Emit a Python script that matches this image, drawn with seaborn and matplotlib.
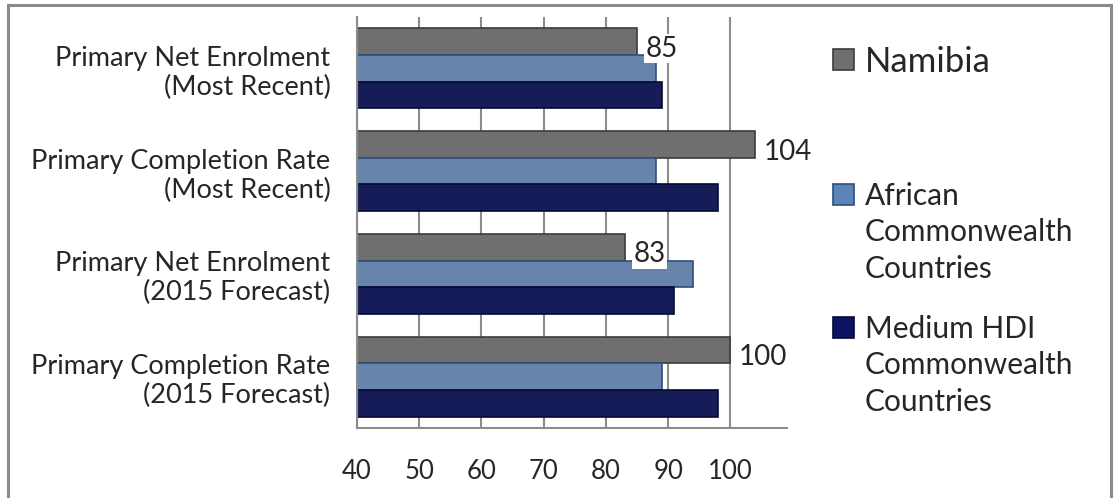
import numpy as np
import pandas as pd
import matplotlib.pyplot as plt
import seaborn as sns
from matplotlib.patches import Rectangle

categories = [
    "Primary Net Enrolment\n(Most Recent)",
    "Primary Completion Rate\n(Most Recent)",
    "Primary Net Enrolment\n(2015 Forecast)",
    "Primary Completion Rate\n(2015 Forecast)",
]
series = ["Namibia", "African Commonwealth Countries", "Medium HDI Commonwealth Countries"]
legend_labels = ["Namibia", "African\nCommonwealth\nCountries", "Medium HDI\nCommonwealth\nCountries"]
namibia = [85, 104, 83, 100]
african = [88, 88, 94, 89]
medium_hdi = [89, 98, 91, 98]
xticks = [40, 50, 60, 70, 80, 90, 100]

colors = ["#6f6f6f", "#5b84b8", "#0b1362"]
edges = ["#3c3c3c", "#2e4f7a", "#050a30"]

df = pd.DataFrame({
    "category": categories * 3,
    "series": np.repeat(series, len(categories)),
    "value": namibia + african + medium_hdi,
})

sns.set_theme(style="white")
plt.rcParams["font.family"] = ["Lato", "DejaVu Sans"]

W, H = 1117, 498
fig = plt.figure(figsize=(W / 100, H / 100), dpi=100)
ax = fig.add_axes([357 / W, 1 - 428 / H, (787 - 357) / W, (428 - 17) / H])

sns.barplot(data=df, y="category", x="value", hue="series", orient="h",
            palette=colors, width=0.78, gap=0, ax=ax, legend=False)

for container, ec in zip(ax.containers, edges):
    for bar in container:
        bar.set_edgecolor(ec)
        bar.set_linewidth(1.2)

ax.set_xlim(40, 109.1)
ax.set_xticks(xticks)
ax.set_xlabel("")
ax.set_ylabel("")
ax.grid(axis="x", color="#8c8c8c", linewidth=1.5)
ax.set_axisbelow(True)
for side in ["top", "right"]:
    ax.spines[side].set_visible(False)
for side in ["left", "bottom"]:
    ax.spines[side].set_color("#8c8c8c")
    ax.spines[side].set_linewidth(1.5)
ax.tick_params(axis="y", labelsize=19.5, length=0, pad=19)
ax.tick_params(axis="x", labelsize=18.5, length=0, pad=22)
for lbl in ax.get_yticklabels():
    lbl.set_horizontalalignment("right")
    lbl.set_multialignment("right")
    lbl.set_linespacing(1.2)

# data labels for Namibia
for bar, v in zip(ax.containers[0], namibia):
    ax.text(bar.get_width() + 1.4, bar.get_y() + bar.get_height() / 2 + 0.07, str(v),
            va="center", ha="left", fontsize=20,
            bbox=dict(facecolor="white", edgecolor="none", pad=1.0))

# legend (placed by hand so the marker sits beside the first line of each entry)
marker_y = [60, 195, 328]
font_sizes = [25, 21.5, 21.5]
for lab, col, ec, yc, fs in zip(legend_labels, colors, edges, marker_y, font_sizes):
    fig.patches.append(Rectangle((833 / W, 1 - (yc + 10) / H), 21 / W, 21 / H,
                                 transform=fig.transFigure, facecolor=col,
                                 edgecolor=ec, linewidth=1.2))
    if "\n" in lab:
        fig.text(865 / W, 1 - (yc - 13) / H, lab, va="top", ha="left",
                 fontsize=fs, linespacing=1.36)
    else:
        fig.text(865 / W, 1 - (yc + 2) / H, lab, va="center", ha="left", fontsize=fs)

# outer frame
fig.patches.append(Rectangle((8 / W, -0.01), (1111 - 8) / W, 1 - 5 / H + 0.01,
                             transform=fig.transFigure, fill=False,
                             edgecolor="#8a8a8a", linewidth=2.2))

fig.savefig("out.png", dpi=100)
